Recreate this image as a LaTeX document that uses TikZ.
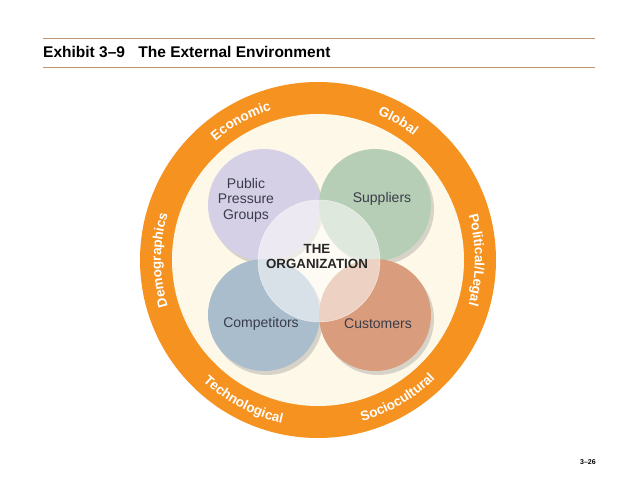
\documentclass[tikz,border=0pt]{standalone}
\usepackage{fontspec}
\setmainfont{Liberation Sans}
\setsansfont{Liberation Sans}
\usetikzlibrary{shadows,decorations.text,positioning}
\definecolor{ringorange}{RGB}{245,146,32}
\definecolor{cream}{RGB}{253,248,232}
\definecolor{rulebrown}{RGB}{190,150,118}
\definecolor{pubcol}{RGB}{213,208,230}
\definecolor{supcol}{RGB}{182,206,181}
\definecolor{compcol}{RGB}{170,189,205}
\definecolor{custcol}{RGB}{217,156,124}
\definecolor{labelgray}{RGB}{58,60,74}

\begin{document}
\begin{tikzpicture}[x=1pt,y=1pt,
    blob/.style={circle, minimum size=112pt, inner sep=0pt,
        drop shadow={shadow xshift=3pt, shadow yshift=-4pt, opacity=.3}},
    blobtext/.style={text=labelgray, align=center, font=\fontsize{14}{15.5}\selectfont},
    ringtext/.style={decorate, decoration={text along path, text align=center,
        text color=white, text={|\fontsize{13.5}{13.5}\selectfont\bfseries|#1}}}]
\useasboundingbox (-318,-219) rectangle (320,260);
    % Title between two rules
    \draw[rulebrown, line width=1pt] (-275,221) -- (277,221);
    \draw[rulebrown, line width=1pt] (-275,192) -- (277,192);
    \node[anchor=base west, inner sep=0pt, font=\fontsize{15.5}{18}\selectfont\bfseries]
        (exhibit) at (-275,202) {Exhibit 3--9};
    \node[right=13pt of exhibit.base east, anchor=base west, inner sep=0pt,
        font=\fontsize{15.5}{18}\selectfont\bfseries] (title) {The External Environment};
    % Orange ring of the environment
    \fill[ringorange] (0,0) circle (178);
    \fill[cream] (0,0) circle (146);
    \path[ringtext=Demographics] (230:157) arc[start angle=230, end angle=130, radius=157];
    \path[ringtext=Economic] (159:157) arc[start angle=159, end angle=79, radius=157];
    \path[ringtext=Global] (100:157) arc[start angle=100, end angle=20, radius=157];
    \path[ringtext=Political/Legal] (50:157) arc[start angle=50, end angle=-50, radius=157];
    \path[ringtext=Technological] (-165:167) arc[start angle=-165, end angle=-71, radius=167];
    \path[ringtext=Sociocultural] (-107:167) arc[start angle=-107, end angle=-13, radius=167];
    % Four circles round the organization
    \node[blob, fill=pubcol] (pub) at (-54,55) {};
    \node[blob, fill=supcol] (sup) at (57,55) {};
    \node[blob, fill=compcol] (comp) at (-54,-55) {};
    \node[blob, fill=custcol] (cust) at (57,-55) {};
    \node[blobtext] at ([shift={(-18,5)}]pub.center) {Public\\Pressure\\Groups};
    \node[blobtext] at ([shift={(7,6)}]sup.center) {Suppliers};
    \node[blobtext] at ([shift={(-3,-9)}]comp.center) {Competitors};
    \node[blobtext] at ([shift={(3,-9)}]cust.center) {Customers};
    % The organization in the middle
    \node[circle, minimum size=122pt, inner sep=0pt, fill=white, fill opacity=.55,
        draw=white, draw opacity=.7] (org) at (1,-1) {};
    \node[align=center, text=black!85, font=\fontsize{13.3}{15}\selectfont\bfseries]
        (orgtext) at ([shift={(-2,5)}]org.center) {THE\\ORGANIZATION};
    % Page number
    \node[font=\fontsize{7}{8}\selectfont\bfseries] (page) at (270,-202) {3--26};
\end{tikzpicture}
\end{document}
